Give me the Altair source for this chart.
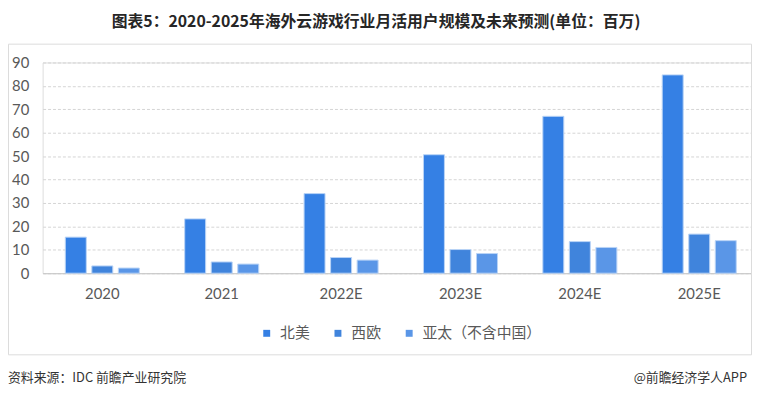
import altair as alt
import pandas as pd

years = ["2020", "2021", "2022E", "2023E", "2024E", "2025E"]
series = ["北美", "西欧", "亚太（不含中国）"]
north_america = [15.4, 23.2, 34.0, 50.6, 67.0, 84.7]
western_europe = [3.1, 4.8, 6.7, 10.1, 13.5, 16.7]
asia_pacific = [2.2, 3.9, 5.6, 8.4, 11.0, 13.9]
colors = ["#3580E4", "#4084DC", "#5A96E7"]
y_ticks = [0, 10, 20, 30, 40, 50, 60, 70, 80, 90]

title_text = "图表5：2020-2025年海外云游戏行业月活用户规模及未来预测(单位：百万)"
source_text = "资料来源：IDC 前瞻产业研究院"
brand_text = "@前瞻经济学人APP"

rows = []
for vals, s in zip([north_america, western_europe, asia_pacific], series):
    for y, v in zip(years, vals):
        rows.append({"year": y, "series": s, "value": v})
df = pd.DataFrame(rows)

W, H = 724, 213
CJK = "Noto Sans CJK SC"

bars = alt.Chart(df).mark_bar(stroke="#b9d3f6", strokeWidth=1).encode(
    x=alt.X("year:N", sort=years,
            scale=alt.Scale(paddingInner=0.38, paddingOuter=0.19),
            axis=alt.Axis(title=None, labelAngle=0, labelFont="Lato", labelFontSize=15,
                          labelColor="#595959", labelPadding=14, ticks=False,
                          domain=True, domainColor="#c8c8c8", domainWidth=1, grid=False)),
    xOffset=alt.XOffset("series:N", sort=series,
                        scale=alt.Scale(paddingInner=0.21, paddingOuter=0)),
    y=alt.Y("value:Q", scale=alt.Scale(domain=[0, 90], nice=False),
            axis=alt.Axis(title=None, values=y_ticks, labelFont="Lato", labelFontSize=15,
                          labelColor="#595959", labelPadding=14, ticks=False, domain=False,
                          grid=True, gridColor="#d4d4d4", gridDash=[3, 2], gridWidth=1)),
    color=alt.Color("series:N", sort=series,
                    scale=alt.Scale(domain=series, range=colors),
                    legend=alt.Legend(title=None, orient="none", direction="horizontal",
                                      legendX=219, legendY=266, symbolType="square",
                                      symbolSize=49, symbolStrokeWidth=0,
                                      labelFont=CJK, labelFontSize=15, labelColor="#595959",
                                      labelOffset=6, columnPadding=20)),
)

one = alt.Data(values=[{"a": 1}])

border = alt.Chart(one).mark_rect(fill=None, stroke="#dcdcdc", strokeWidth=1).encode(
    x=alt.value(-34.5), x2=alt.value(716.5), y=alt.value(-18.5), y2=alt.value(295.5)
)

title = alt.Chart(one).mark_text(
    font=CJK, fontSize=16, fontWeight="bold", color="#262626", align="center", baseline="middle"
).encode(x=alt.value(337), y=alt.value(-41), text=alt.value(title_text))

source = alt.Chart(one).mark_text(
    font=CJK, fontSize=13, color="#333333", align="left", baseline="middle"
).encode(x=alt.value(-35), y=alt.value(319), text=alt.value(source_text))

brand = alt.Chart(one).mark_text(
    font=CJK, fontSize=13, color="#333333", align="right", baseline="middle"
).encode(x=alt.value(712), y=alt.value(319), text=alt.value(brand_text))

chart = alt.layer(border, bars, title, source, brand).properties(
    width=W, height=H,
    padding={"left": 35, "top": 53, "right": -7, "bottom": 117},
    autosize=alt.AutoSizeParams(type="none"),
).configure_view(stroke=None).configure(background="white")

chart.save("out.html", embed_options={"renderer": "svg", "actions": False})
